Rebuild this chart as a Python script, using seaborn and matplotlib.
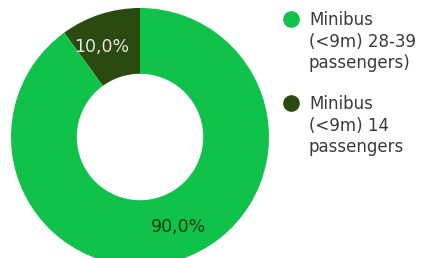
import matplotlib
matplotlib.use("Agg")
import matplotlib.pyplot as plt
import seaborn as sns
import numpy as np

sns.set_theme(style="white")
plt.rcParams['font.family'] = ['DejaVu Sans']

categories = ["Minibus\n(<9m) 14\npassengers", "Minibus\n(<9m) 28-39\npassengers)"]
values = [10.0, 90.0]
colors = ["#2a4a10", "#10c24a"]
label_colors = ["#e4e4e4", "#1a3a10"]
legend_order = [1, 0]

W, H = 430, 258
fig = plt.figure(figsize=(W / 100, H / 100), dpi=100)
cx, cy, r = 140, 137, 129
ax = fig.add_axes([(cx - r) / W, (H - cy - r) / H, 2 * r / W, 2 * r / H])
wedges, texts, autotexts = ax.pie(
    values, colors=colors, startangle=90, counterclock=True,
    autopct=lambda p: f"{p:.1f}%".replace(".", ","), pctdistance=0.76,
    wedgeprops=dict(width=0.51, edgecolor="none"),
    textprops=dict(fontsize=12.5))
for w, t, c in zip(wedges, autotexts, label_colors):
    t.set_color(c)
    mid = np.deg2rad((w.theta1 + w.theta2) / 2 + 5)
    t.set_position((0.76 * np.cos(mid), 0.76 * np.sin(mid)))
ax.set_aspect("equal")
ax.set_xlim(-1, 1)
ax.set_ylim(-1, 1)
ax.axis("off")

# legend (manual, marker aligned with first text line)
y0 = 19
for k, i in enumerate(legend_order):
    ytop = y0 + k * 84
    fig.lines.append(plt.Line2D([291 / W], [1 - ytop / H], marker='o', color='none',
                                markerfacecolor=colors[i], markeredgecolor='none',
                                markersize=12, transform=fig.transFigure))
    for j, line in enumerate(categories[i].split("\n")):
        fig.text(309 / W, 1 - (ytop + 1 + j * 21.7) / H, line, fontsize=12,
                 color="#3a3a3a", va="center", ha="left")

fig.savefig("out.png", dpi=100)
